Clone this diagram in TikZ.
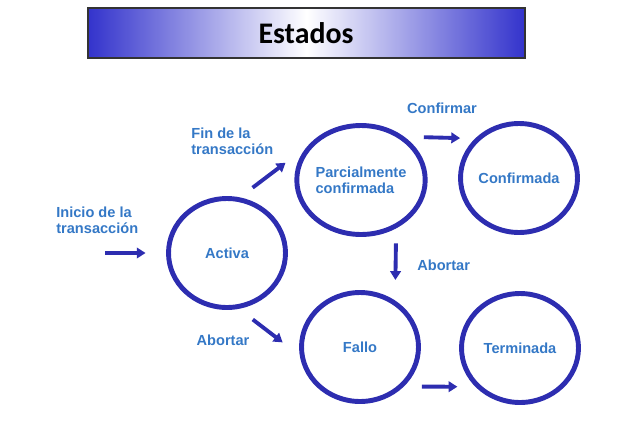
\documentclass[tikz,border=0pt]{standalone}
\usepackage{fontspec}
\setmainfont{Liberation Sans}
\newfontfamily\titlefont{Carlito}
\usetikzlibrary{arrows.meta,shapes.geometric}
\definecolor{ring}{HTML}{2D2DB0}
\definecolor{lbl}{HTML}{3478C6}
\definecolor{band}{HTML}{3333CC}
\newcommand{\lblfont}{\fontsize{8.3}{9.3}\selectfont\bfseries}

\begin{document}
\begin{tikzpicture}[x=0.02cm,y=-0.02cm,
  estado/.style={ellipse,draw=ring,line width=2.8pt,minimum width=2.34cm,minimum height=2.18cm,
    inner sep=0pt,text=lbl,font=\lblfont,align=left},
  rotulo/.style={text=lbl,font=\lblfont,align=left,inner sep=0pt},
  flecha/.style={-{Triangle[length=5pt,width=6pt]},ring,line width=2.2pt}]
  \useasboundingbox (0,0) rectangle (638,423);
  % title band
  \shade[left color=band,right color=band,middle color=white] (88,8) rectangle (525,58);
  \draw[black!80,line width=0.8pt] (88,8) rectangle (525,58);
  \node[font=\titlefont\fontsize{17}{20}\selectfont\bfseries] (titulo) at (306,33) {Estados};
  % states
  \node[estado] (act) at (227,253) {Activa};
  \node[estado] (par) at (361,180) {Parcialmente\\confirmada};
  \node[estado] (con) at (519,178) {Confirmada};
  \node[estado] (fal) at (360,347) {Fallo};
  \node[estado] (ter) at (520,348) {Terminada};
  % labels
  \node[rotulo,anchor=west] (lini) at (56,220) {Inicio de la\\transacción};
  \node[rotulo,anchor=west] (lfin) at (191,141) {Fin de la\\transacción};
  \node[rotulo] (lconf) at (442,108) {Confirmar};
  \node[rotulo,anchor=west] (labo1) at (417,265) {Abortar};
  \node[rotulo] (labo2) at (223,340) {Abortar};
  % transitions
  \coordinate (ini) at (105,253);
  \draw[flecha,shorten >=0.41cm] (ini) -- (act.180);
  \draw[flecha,shorten <=0.32cm] (act.77) -- ++(45.7,-34.6);
  \draw[flecha,shorten <=0.39cm,shorten >=0.3cm] (par.45) -- (con.138);
  \draw[flecha,shorten <=0.3cm,shorten >=0.41cm] (par.306) -- (fal.53);
  \draw[flecha,shorten <=0.35cm,shorten >=0.43cm] (act.282) -- (fal.188);
  \draw[flecha,shorten <=0.36cm,shorten >=0.36cm] (fal.318) -- (ter.221);
\end{tikzpicture}
\end{document}
